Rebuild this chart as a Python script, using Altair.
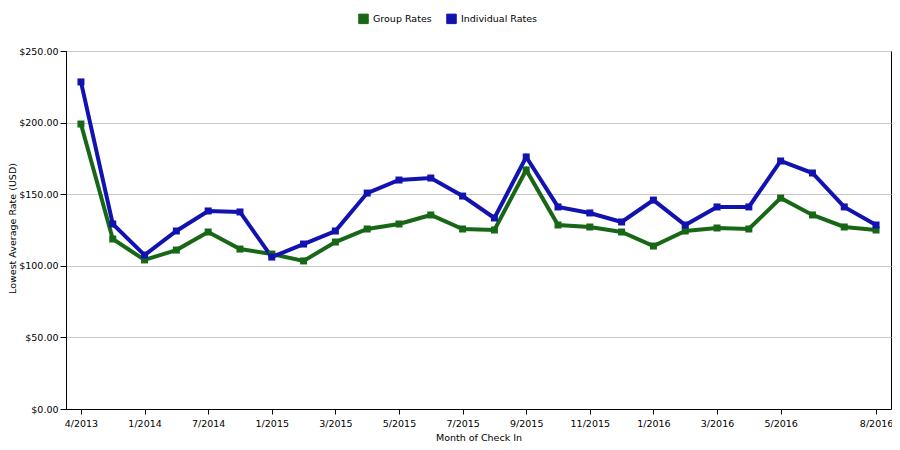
import altair as alt
import pandas as pd

months = ["4/2013", "10/2013", "1/2014", "4/2014", "7/2014", "10/2014", "1/2015", "2/2015",
          "3/2015", "4/2015", "5/2015", "6/2015", "7/2015", "8/2015", "9/2015", "10/2015",
          "11/2015", "12/2015", "1/2016", "2/2016", "3/2016", "4/2016", "5/2016", "6/2016",
          "7/2016", "8/2016"]
shown_labels = ["4/2013", "1/2014", "7/2014", "1/2015", "3/2015", "5/2015", "7/2015", "9/2015",
                "11/2015", "1/2016", "3/2016", "5/2016", "8/2016"]
group_rates = [199.0, 118.7, 104.1, 111.0, 123.6, 111.7, 108.2, 103.4, 116.6, 125.7, 129.2,
               135.5, 125.7, 125.0, 166.9, 128.5, 127.1, 123.6, 113.8, 124.3, 126.4, 125.7,
               147.3, 135.5, 127.1, 125.0]
individual_rates = [228.4, 129.2, 107.5, 124.3, 138.3, 137.6, 106.1, 115.2, 124.3, 150.8, 159.9,
                    161.3, 148.7, 133.4, 176.0, 141.1, 136.9, 130.6, 145.9, 128.5, 141.1, 141.1,
                    173.2, 164.8, 141.1, 128.5]
series_names = ["Group Rates", "Individual Rates"]
series_colors = ["#176717", "#1212B0"]

rows = []
for i, m in enumerate(months):
    rows.append({"month": m, "series": series_names[0], "rate": group_rates[i], "o": 0})
    rows.append({"month": m, "series": series_names[1], "rate": individual_rates[i], "o": 1})
df = pd.DataFrame(rows)

FONT = "DejaVu Sans"

x = alt.X("month:N", sort=months,
          scale=alt.Scale(type="point", padding=0.47),
          axis=alt.Axis(title="Month of Check In", values=shown_labels, labelAngle=0,
                        grid=False, domainColor="#000000", tickColor="#000000",
                        tickSize=5, labelPadding=4, titlePadding=5))
y = alt.Y("rate:Q", scale=alt.Scale(domain=[0, 250], nice=False),
          axis=alt.Axis(title="Lowest Average Rate (USD)", format="$,.2f",
                        values=[0, 50, 100, 150, 200, 250], grid=True,
                        gridColor="#c8c8c8", domainColor="#000000", tickColor="#000000",
                        tickSize=6, labelPadding=2,
                        titleX=-54, titleY=177, titleAngle=270, titleAlign="center",
                        titleBaseline="middle"))
color = alt.Color("series:N", sort=series_names,
                  scale=alt.Scale(domain=series_names, range=series_colors),
                  legend=alt.Legend(title=None, orient="none", direction="horizontal",
                                    legendX=292, legendY=-38, symbolType="square",
                                    symbolSize=90, symbolStrokeColor="#111111",
                                    symbolStrokeWidth=1, columnPadding=12,
                                    labelFontSize=9.5, labelFont=FONT, labelColor="#000000"))

base = alt.Chart(df)
lines = base.mark_line(strokeWidth=4).encode(x=x, y=y, color=color, order="o:Q",
                                             detail="series:N")
points = base.mark_square(size=49, opacity=1, filled=True).encode(
    x=x, y=y, color=alt.Color("series:N", scale=alt.Scale(domain=series_names, range=series_colors), legend=None))

chart = (alt.layer(lines, points)
         .properties(width=825, height=358,
                     autosize=alt.AutoSizeParams(type="none"),
                     padding={"left": 58, "top": 43, "right": 1, "bottom": 36})
         .configure_view(stroke="#000000", strokeWidth=1)
         .configure_axis(labelFont=FONT, titleFont=FONT, labelFontSize=9.5, titleFontSize=9.5,
                         titleFontWeight="normal", labelColor="#000000", titleColor="#000000")
         .configure_legend(padding=0))

chart.save("out.html", embed_options={"renderer": "svg", "actions": False})
